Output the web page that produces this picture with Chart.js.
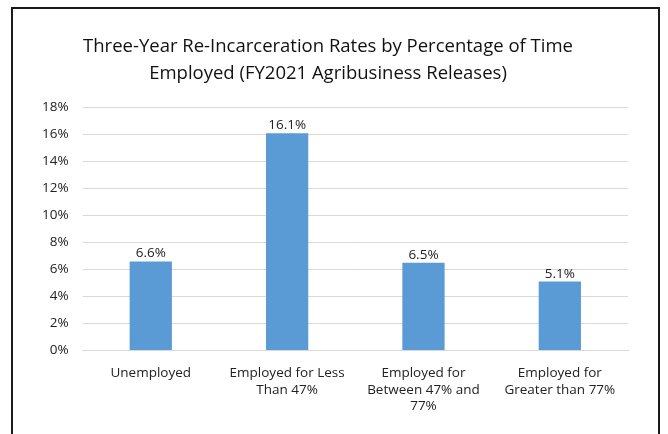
<!DOCTYPE html>
<html>
<head>
<meta charset="utf-8">
<script src="https://cdn.jsdelivr.net/npm/chart.js@4"></script>
<style>
  html, body { margin: 0; padding: 0; background: #fff; overflow: hidden; }
  #wrap { position: relative; width: 668px; height: 434px; }
  #frame { position: absolute; left: 11px; top: 7px; width: 649px; height: 440px; border: 2px solid #1a1a1a; box-sizing: border-box; pointer-events: none; }
  canvas { position: absolute; left: 0; top: 0; }
</style>
</head>
<body>
<div id="wrap">
  <canvas id="chart" width="668" height="434"></canvas>
  <div id="frame"></div>
</div>
<script>
const categories = [
  'Unemployed',
  ['Employed for Less', 'Than 47%'],
  ['Employed for', 'Between 47% and', '77%'],
  ['Employed for', 'Greater than 77%']
];
const rates = [6.6, 16.1, 6.5, 5.1];
const yTicks = [0, 2, 4, 6, 8, 10, 12, 14, 16, 18];

const fontFamily = "'Open Sans', 'Liberation Sans', sans-serif";

// Draws the value above each bar
const valueLabels = {
  id: 'valueLabels',
  afterDatasetsDraw(chart) {
    const ctx = chart.ctx;
    const meta = chart.getDatasetMeta(0);
    ctx.save();
    ctx.font = '13.5px ' + fontFamily;
    ctx.fillStyle = '#222';
    ctx.textAlign = 'center';
    ctx.textBaseline = 'bottom';
    meta.data.forEach((bar, i) => {
      ctx.fillText(rates[i].toFixed(1) + '%', bar.x, bar.y - 1);
    });
    ctx.restore();
  }
};

new Chart(document.getElementById('chart'), {
  type: 'bar',
  data: {
    labels: categories,
    datasets: [{
      data: rates,
      backgroundColor: '#5b9bd5',
      borderWidth: 0,
      barPercentage: 0.31,
      categoryPercentage: 1
    }]
  },
  options: {
    responsive: false,
    animation: false,
    layout: { padding: { left: 28, right: 40, top: 23, bottom: 5 } },
    scales: {
      x: {
        grid: { display: false, drawTicks: false },
        border: { color: '#d9d9d9', width: 1 },
        ticks: {
          color: '#222',
          font: { family: fontFamily, size: 13.5 },
          padding: 15,
          maxRotation: 0,
          autoSkip: false
        }
      },
      y: {
        min: 0,
        max: 18,
        afterBuildTicks: axis => { axis.ticks = yTicks.map(v => ({ value: v })); },
        grid: { color: '#d9d9d9', drawTicks: false },
        border: { display: false },
        ticks: {
          color: '#222',
          font: { family: fontFamily, size: 13.5 },
          padding: 14,
          callback: v => v + '%'
        }
      }
    },
    plugins: {
      legend: { display: false },
      tooltip: { enabled: false },
      title: {
        display: true,
        text: ['Three-Year Re-Incarceration Rates by Percentage of Time', 'Employed (FY2021 Agribusiness Releases)'],
        color: '#111',
        font: { family: fontFamily, size: 18.5, weight: 'normal', lineHeight: 1.45 },
        padding: { top: 10, bottom: 21 }
      }
    }
  },
  plugins: [valueLabels]
});
</script>
</body>
</html>
